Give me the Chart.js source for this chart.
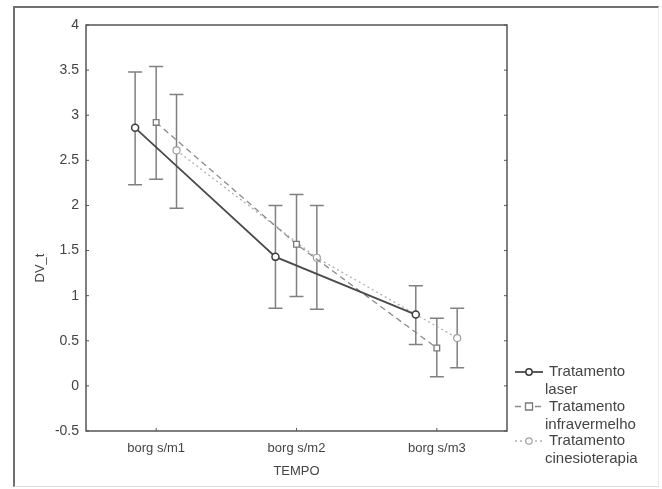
<!DOCTYPE html>
<html lang="pt">
<head>
  <meta charset="UTF-8" />
  <title>DV_t por TEMPO</title>
  <script src="https://cdn.jsdelivr.net/npm/chart.js"></script>
  <style>
    * {
      box-sizing: border-box;
    }
    body {
      margin: 0;
      width: 662px;
      height: 489px;
      background: #ffffff;
      position: relative;
      overflow: hidden;
      font-family: "Liberation Sans", Arial, sans-serif;
    }
    #frame {
      position: absolute;
      left: 13px;
      top: 6px;
      width: 646px;
      height: 481px;
      border-top: 2px solid #707070;
      border-left: 2px solid #707070;
      border-bottom: 1px solid #dcdcdc;
      border-right: 1px solid #ececec;
    }
    #chart {
      position: absolute;
      left: 0;
      top: 0;
    }
  </style>
</head>
<body>
  <div id="frame"></div>
  <canvas id="chart" width="662" height="489"></canvas>

<script>
  // categorias do eixo X
  const categories = ['borg s/m1', 'borg s/m2', 'borg s/m3'];
  const yTicks = [-0.5, 0, 0.5, 1, 1.5, 2, 2.5, 3, 3.5, 4];

  // médias e limites dos intervalos
  const laserMean = [2.86, 1.43, 0.79];
  const laserLow = [2.23, 0.86, 0.46];
  const laserHigh = [3.48, 2.00, 1.11];

  const infraMean = [2.92, 1.57, 0.42];
  const infraLow = [2.29, 0.99, 0.10];
  const infraHigh = [3.54, 2.12, 0.75];

  const cinesioMean = [2.61, 1.42, 0.53];
  const cinesioLow = [1.97, 0.85, 0.20];
  const cinesioHigh = [3.23, 2.00, 0.86];

  const seriesNames = [
    ['Tratamento', 'laser'],
    ['Tratamento', 'infravermelho'],
    ['Tratamento', 'cinesioterapia']
  ];

  const offsets = [-0.15, 0, 0.145];
  const textColor = '#444444';
  const font = { family: '"Liberation Sans", Arial, sans-serif', size: 13 };

  function points(means, lows, highs, off) {
    return means.map((m, i) => ({ x: i + 1 + off, y: m, low: lows[i], high: highs[i] }));
  }

  const errorBars = {
    id: 'errorBars',
    beforeDatasetsDraw(chart) {
      const { ctx, scales: { x, y } } = chart;
      ctx.save();
      ctx.strokeStyle = '#808080';
      ctx.lineWidth = 1.5;
      ctx.setLineDash([]);
      chart.data.datasets.forEach(ds => {
        ds.data.forEach(p => {
          const px = x.getPixelForValue(p.x);
          const top = y.getPixelForValue(p.high);
          const bot = y.getPixelForValue(p.low);
          ctx.beginPath();
          ctx.moveTo(px, top);
          ctx.lineTo(px, bot);
          ctx.moveTo(px - 7, top);
          ctx.lineTo(px + 7, top);
          ctx.moveTo(px - 7, bot);
          ctx.lineTo(px + 7, bot);
          ctx.stroke();
        });
      });
      ctx.restore();
    },
    afterDraw(chart) {
      const { ctx, chartArea: a, scales: { x, y } } = chart;
      ctx.save();
      // moldura da área do gráfico
      ctx.strokeStyle = '#555555';
      ctx.lineWidth = 1.5;
      ctx.strokeRect(a.left, a.top, a.right - a.left, a.bottom - a.top);

      // pequenos traços internos
      ctx.lineWidth = 1;
      ctx.beginPath();
      yTicks.forEach(v => {
        const py = y.getPixelForValue(v);
        ctx.moveTo(a.left, py); ctx.lineTo(a.left + 3, py);
        ctx.moveTo(a.right, py); ctx.lineTo(a.right - 3, py);
      });
      categories.forEach((c, i) => {
        const px = x.getPixelForValue(i + 1);
        ctx.moveTo(px, a.bottom); ctx.lineTo(px, a.bottom - 3);
      });
      ctx.stroke();

      // título do eixo Y
      ctx.fillStyle = textColor;
      ctx.font = '13px "Liberation Sans", Arial, sans-serif';
      ctx.textAlign = 'center';
      ctx.textBaseline = 'middle';
      ctx.translate(40, 268);
      ctx.rotate(-Math.PI / 2);
      ctx.fillText('DV_t', 0, 0);
      ctx.restore();

      // legenda
      ctx.save();
      ctx.font = '15px "Liberation Sans", Arial, sans-serif';
      ctx.textBaseline = 'middle';
      ctx.textAlign = 'left';
      chart.data.datasets.forEach((ds, i) => {
        const y0 = 372 + i * 34.5;
        ctx.strokeStyle = ds.borderColor;
        ctx.lineWidth = ds.borderWidth;
        ctx.setLineDash(ds.borderDash || []);
        ctx.beginPath();
        ctx.moveTo(515, y0);
        ctx.lineTo(543, y0);
        ctx.stroke();
        ctx.setLineDash([]);
        ctx.fillStyle = '#ffffff';
        ctx.strokeStyle = ds.pointBorderColor;
        ctx.lineWidth = ds.pointBorderWidth;
        ctx.beginPath();
        if (ds.pointStyle === 'rect') {
          ctx.rect(525.5, y0 - 3.5, 7, 7);
        } else {
          ctx.arc(529, y0, 3.2, 0, Math.PI * 2);
        }
        ctx.fill();
        ctx.stroke();
        ctx.fillStyle = textColor;
        ctx.fillText(seriesNames[i][0], 549, y0);
        ctx.fillText(seriesNames[i][1], 545, y0 + 18);
      });
      ctx.restore();
    }
  };

  const ctx = document.getElementById('chart').getContext('2d');
  new Chart(ctx, {
    type: 'scatter',
    data: {
      datasets: [
        {
          label: seriesNames[0].join(' '),
          data: points(laserMean, laserLow, laserHigh, offsets[0]),
          showLine: true,
          borderColor: '#4a4a4a',
          borderWidth: 1.8,
          pointStyle: 'circle',
          pointRadius: 3.5,
          pointBorderColor: '#3c3c3c',
          pointBorderWidth: 1.5,
          pointBackgroundColor: '#ffffff'
        },
        {
          label: seriesNames[1].join(' '),
          data: points(infraMean, infraLow, infraHigh, offsets[1]),
          showLine: true,
          borderColor: '#8a8a8a',
          borderWidth: 1.3,
          borderDash: [6, 4],
          pointStyle: 'rect',
          pointRadius: 4,
          pointBorderColor: '#7a7a7a',
          pointBorderWidth: 1.3,
          pointBackgroundColor: '#ffffff'
        },
        {
          label: seriesNames[2].join(' '),
          data: points(cinesioMean, cinesioLow, cinesioHigh, offsets[2]),
          showLine: true,
          borderColor: '#b0b0b0',
          borderWidth: 1.3,
          borderDash: [2, 3],
          pointStyle: 'circle',
          pointRadius: 3.5,
          pointBorderColor: '#a0a0a0',
          pointBorderWidth: 1.2,
          pointBackgroundColor: '#ffffff'
        }
      ]
    },
    options: {
      responsive: false,
      animation: false,
      layout: { padding: { top: 25, right: 155, bottom: 0, left: 0 } },
      plugins: {
        legend: { display: false },
        tooltip: { enabled: false }
      },
      scales: {
        x: {
          type: 'linear',
          min: 0.5,
          max: 3.5,
          grid: { display: false, drawTicks: false },
          border: { display: false },
          afterBuildTicks: s => { s.ticks = categories.map((c, i) => ({ value: i + 1 })); },
          afterFit: s => { s.height = 58; },
          ticks: {
            padding: 10,
            color: textColor,
            font: font,
            callback: v => categories[v - 1]
          },
          title: {
            display: true,
            text: 'TEMPO',
            color: textColor,
            font: font,
            padding: { top: 0, bottom: 10 }
          }
        },
        y: {
          min: -0.5,
          max: 4,
          grid: { display: false, drawTicks: false },
          border: { display: false },
          afterBuildTicks: s => { s.ticks = yTicks.map(v => ({ value: v })); },
          afterFit: s => { s.width = 86; },
          ticks: {
            padding: 7,
            color: textColor,
            font: { family: font.family, size: 14 },
            callback: v => String(v)
          }
        }
      }
    },
    plugins: [errorBars]
  });
</script>
</body>
</html>
